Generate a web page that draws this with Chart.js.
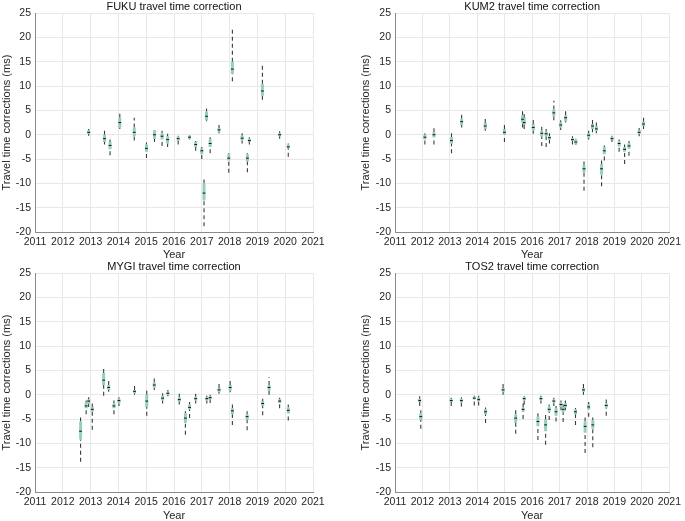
<!DOCTYPE html>
<html>
<head>
<meta charset="utf-8">
<script src="https://cdn.jsdelivr.net/npm/chart.js@4/dist/chart.umd.min.js"></script>
<style>
  html, body { margin: 0; padding: 0; background: #fff; overflow: hidden; }
  body { width: 685px; height: 521px; position: relative; }
  canvas { position: absolute; }
</style>
</head>
<body>
<canvas id="fuku" width="340" height="262" style="left:0;top:0"></canvas>
<canvas id="kum2" width="343" height="262" style="left:342px;top:0"></canvas>
<canvas id="mygi" width="340" height="263" style="left:0;top:260px"></canvas>
<canvas id="tos2" width="343" height="263" style="left:342px;top:260px"></canvas>
<script>
// Year ticks and correction range shared by all four panels
const yearTicks = [2011, 2012, 2013, 2014, 2015, 2016, 2017, 2018, 2019, 2020, 2021];
const corrTicks = [-20, -15, -10, -5, 0, 5, 10, 15, 20, 25];

// FUKU
const fukuYear = [2012.93, 2013.5, 2013.7, 2014.05, 2014.57, 2015.01, 2015.3, 2015.57, 2015.77, 2016.15, 2016.56, 2016.78, 2017.0, 2017.08, 2017.17, 2017.3, 2017.62, 2017.97, 2018.1, 2018.45, 2018.64, 2018.71, 2019.18, 2019.8, 2020.11];
const fukuMed  = [0.5, -0.8, -2.2, 2.5, 0.5, -2.8, 0, -0.3, -1, -0.8, -0.5, -2, -3.3, -12, 3.8, -1.8, 1, -4.8, 13.5, -0.7, -4.8, -1.2, 9, 0, -2.5];
const fukuQ1   = [0.2, -1.5, -3, 1.5, -0.3, -3.5, -0.8, -1, -1.8, -1.2, -0.8, -2.5, -4, -13.5, 3, -2.5, 0.6, -5.3, 12.5, -1.2, -5.5, -1.5, 8, -0.3, -2.8];
const fukuQ3   = [0.9, 0, -1.5, 3.5, 1.5, -2, 1, 0.3, -0.3, -0.4, -0.2, -1.5, -2.8, -10, 4.8, -1, 1.4, -4, 15, -0.2, -4, -0.8, 10.5, 0.3, -2];
const fukuLo   = [-0.2, -2, -4.2, 1.2, -1.2, -4.8, -1.5, -2.3, -2.5, -2, -1, -3.3, -5, -18.8, 2.8, -3.8, 0.3, -7.8, 11, -1.8, -7.7, -2, 7.2, -0.8, -4.5];
const fukuHi   = [1.2, 0.8, -1, 4.4, 3.5, -1.6, 1, 0.8, 0.2, -0.2, -0.1, -1.3, -2.5, -9, 5.4, -0.5, 2, -3.8, 21.8, 0.3, -3.8, -0.5, 14.2, 0.7, -1.8];

// KUM2
const kum2Year = [2012.09, 2012.42, 2013.06, 2013.43, 2014.29, 2014.99, 2015.65, 2015.71, 2016.04, 2016.35, 2016.51, 2016.63, 2016.79, 2017.04, 2017.22, 2017.47, 2017.59, 2017.89, 2018.06, 2018.2, 2018.34, 2018.53, 2018.63, 2018.91, 2019.17, 2019.37, 2019.53, 2019.9, 2020.06];
const kum2Med  = [-0.5, 0, -1.2, 2.7, 1.8, 0.5, 3.2, 2.5, 1.5, 0.3, 0.2, -0.6, 4.5, 2, 3.5, -1, -1.5, -7, -0.1, 1.8, 1.2, -7, -3.3, -0.8, -1.8, -3, -2.3, 0.5, 2.2];
const kum2Q1   = [-1, -0.5, -1.8, 2, 1.2, 0, 2.5, 2, 0.8, -0.3, -0.3, -1, 3.8, 1.5, 2.8, -1.3, -2, -7.8, -0.6, 1.2, 0.8, -8.2, -4, -1.1, -2.4, -3.5, -2.8, 0.2, 1.8];
const kum2Q3   = [0, 0.5, -0.5, 3.3, 2.4, 1.2, 4, 3.5, 2.2, 0.8, 0.6, -0.3, 5.2, 2.5, 4, -0.7, -1, -6.2, 0.3, 2.2, 1.8, -6, -2.5, -0.4, -1.4, -2.5, -1.8, 1, 2.7];
const kum2Lo   = [-2, -2, -3.8, 1.5, 0.8, -1.5, 1.5, 1.2, 0.2, -2.3, -2.5, -1.8, 3, 1, 2.5, -2, -2.1, -11.5, -1, 0.5, 0.3, -10.6, -5.3, -1.5, -3.5, -6, -4.3, -0.3, 1.2];
const kum2Hi   = [0.3, 1.8, 0.5, 4.4, 3.7, 2.6, 5.3, 4.2, 3.4, 1.8, 1.2, 0.3, 7, 3, 5.4, -0.3, -0.8, -5.5, 0.8, 3.2, 2.5, -5.3, -2.2, -0.2, -1, -2, -1.3, 1.4, 3.8];

// MYGI
const mygiYear = [2012.64, 2012.84, 2012.93, 2013.06, 2013.47, 2013.65, 2013.84, 2014.02, 2014.58, 2015.02, 2015.29, 2015.59, 2015.78, 2016.19, 2016.41, 2016.56, 2016.78, 2017.18, 2017.3, 2017.62, 2018.02, 2018.1, 2018.63, 2019.19, 2019.42, 2019.8, 2020.11];
const mygiMed  = [-7.5, -2.3, -1.3, -3, 3, 1.5, -2.3, -1.2, 0.7, -1.3, 2, -0.7, 0.3, -1, -4.8, -2.6, -0.8, -0.8, -0.6, 1, 1.5, -3.3, -4.5, -1.8, 1.5, -1.3, -3.2];
const mygiQ1   = [-9.2, -2.8, -1.8, -3.5, 2, 1, -2.8, -1.8, 0.3, -2.5, 1.5, -1.2, 0, -1.5, -5.8, -3, -1.2, -1.2, -0.9, 0.6, 0.8, -4, -5.2, -2.3, 0.8, -1.7, -3.8];
const mygiQ3   = [-5.5, -1.5, -1, -2.5, 4.5, 2, -1.8, -0.8, 1, 0, 2.5, -0.2, 0.6, -0.5, -3.8, -2, -0.4, -0.5, -0.3, 1.4, 2, -2.8, -4, -1.3, 2, -0.9, -2.6];
const mygiLo   = [-13.8, -4, -2.5, -7.2, -0.2, 0.6, -4, -2.3, 0, -4.3, 1, -1.8, -0.3, -2, -8.2, -4.8, -1.8, -1.8, -1.7, 0.2, 0.5, -6.2, -7.3, -4.2, 0, -2.8, -5.3];
const mygiHi   = [-4.5, -1.2, -0.5, -1.8, 5.6, 3, -1.2, -0.5, 2, 1.3, 3.4, 0.3, 1, 0.2, -3.4, -1.5, 0.2, -0.2, 0, 2.4, 3.2, -2, -3.4, -0.8, 3.6, -0.6, -2];

// TOS2
const tos2Year = [2011.9, 2011.94, 2013.05, 2013.42, 2013.89, 2014.05, 2014.3, 2014.94, 2015.4, 2015.67, 2015.71, 2016.21, 2016.32, 2016.49, 2016.62, 2016.79, 2016.87, 2017.05, 2017.13, 2017.21, 2017.58, 2017.87, 2017.93, 2018.06, 2018.21, 2018.7];
const tos2Med  = [-1.2, -4.5, -1.2, -1.2, -0.7, -1, -3.5, 1, -4.8, -3, -0.8, -5.5, -0.8, -6.2, -3, -1.3, -3.5, -2, -3, -2.2, -3.5, 1, -6.5, -2.5, -6.2, -2.2];
const tos2Q1   = [-1.5, -5.2, -1.5, -1.6, -1, -1.3, -4, 0.6, -5.8, -3.4, -1.2, -6.5, -1.2, -7.5, -3.5, -1.6, -4.3, -2.5, -3.6, -2.6, -4, 0.6, -7.8, -3, -7, -2.6];
const tos2Q3   = [-0.8, -3.8, -0.9, -0.8, -0.4, -0.6, -3, 1.4, -4, -2.6, -0.5, -4.5, -0.5, -5, -2.4, -1, -2.8, -1.6, -2.5, -1.7, -3, 1.4, -5.5, -2, -5.3, -1.8];
const tos2Lo   = [-2.3, -7, -2.3, -2.4, -2.2, -2.2, -5.8, 0, -8, -5, -2, -9.3, -1.8, -10.3, -5.2, -2.3, -5.5, -3.2, -5.6, -3.2, -6.2, 0, -12, -4.5, -10.8, -4.3];
const tos2Hi   = [-0.3, -3.2, -0.6, -0.5, -0.2, -0.2, -2.6, 2.5, -3, -1.8, -0.3, -3.8, -0.2, -4, -2, -0.6, -2.3, -1.2, -2, -1.2, -2.7, 2.5, -4.5, -1.5, -4.7, -1];

Chart.defaults.font.family = '"Liberation Sans", Arial, Helvetica, sans-serif';
Chart.defaults.color = '#262626';

function makeBoxChart(id, title, years, med, q1, q3, lo, hi, padLeft, padRight, yWidth, xHeight) {
  const whiskers = [];
  const boxes = [];
  const medians = [];
  years.forEach((yr, i) => {
    whiskers.push({x: yr, y: lo[i]}, {x: yr, y: q1[i]}, {x: yr, y: null},
                  {x: yr, y: q3[i]}, {x: yr, y: hi[i]}, {x: yr, y: null});
    boxes.push({x: yr, y: q1[i]}, {x: yr, y: q3[i]}, {x: yr, y: null});
    medians.push({x: yr, y: med[i]});
  });

  return new Chart(document.getElementById(id), {
    type: 'line',
    data: {
      datasets: [
        {
          data: whiskers,
          borderColor: '#3a3a3a',
          borderWidth: 1.1,
          borderDash: [4, 3],
          pointRadius: 0,
          spanGaps: false,
          order: 3
        },
        {
          data: boxes,
          borderColor: 'rgba(120, 196, 176, 0.8)',
          borderWidth: 3,
          borderCapStyle: 'butt',
          pointRadius: 0,
          spanGaps: false,
          order: 2
        },
        {
          data: medians,
          showLine: false,
          pointStyle: 'line',
          pointRadius: 1.4,
          borderColor: '#111',
          borderWidth: 1,
          order: 1
        }
      ]
    },
    options: {
      responsive: false,
      animation: false,
      events: [],
      layout: { padding: { left: padLeft, right: padRight, top: 0, bottom: 0 } },
      plugins: {
        legend: { display: false },
        tooltip: { enabled: false },
        title: {
          display: true,
          text: title,
          fullSize: false,
          color: '#111',
          font: { size: 11, weight: 'normal' },
          padding: { top: 0, bottom: 0 }
        }
      },
      scales: {
        x: {
          type: 'linear',
          min: yearTicks[0],
          max: yearTicks[yearTicks.length - 1],
          afterBuildTicks: s => { s.ticks = yearTicks.map(v => ({ value: v })); },
          afterFit: s => { s.height = xHeight; },
          grid: { color: '#e8e8e8', drawTicks: false },
          border: { display: true, color: '#8a8a8a' },
          ticks: {
            autoSkip: false,
            maxRotation: 0,
            padding: 4,
            font: { size: 10.5 },
            callback: v => String(v)
          },
          title: { display: true, text: 'Year', font: { size: 11 }, padding: 0 }
        },
        y: {
          type: 'linear',
          min: corrTicks[0],
          max: corrTicks[corrTicks.length - 1],
          afterBuildTicks: s => { s.ticks = corrTicks.map(v => ({ value: v })); },
          afterFit: s => { s.width = yWidth; },
          grid: { color: '#e8e8e8', drawTicks: false },
          border: { display: true, color: '#8a8a8a' },
          ticks: { padding: 4, font: { size: 10.5 } },
          title: { display: true, text: 'Travel time corrections (ms)', font: { size: 11 }, padding: 0 }
        }
      }
    }
  });
}

makeBoxChart('fuku', 'FUKU travel time correction', fukuYear, fukuMed, fukuQ1, fukuQ3, fukuLo, fukuHi, 0, 27, 35, 30);
makeBoxChart('kum2', 'KUM2 travel time correction', kum2Year, kum2Med, kum2Q1, kum2Q3, kum2Lo, kum2Hi, 17, 11, 36, 30);
makeBoxChart('mygi', 'MYGI travel time correction', mygiYear, mygiMed, mygiQ1, mygiQ3, mygiLo, mygiHi, 0, 27, 35, 31);
makeBoxChart('tos2', 'TOS2 travel time correction', tos2Year, tos2Med, tos2Q1, tos2Q3, tos2Lo, tos2Hi, 17, 11, 36, 31);
</script>
</body>
</html>
